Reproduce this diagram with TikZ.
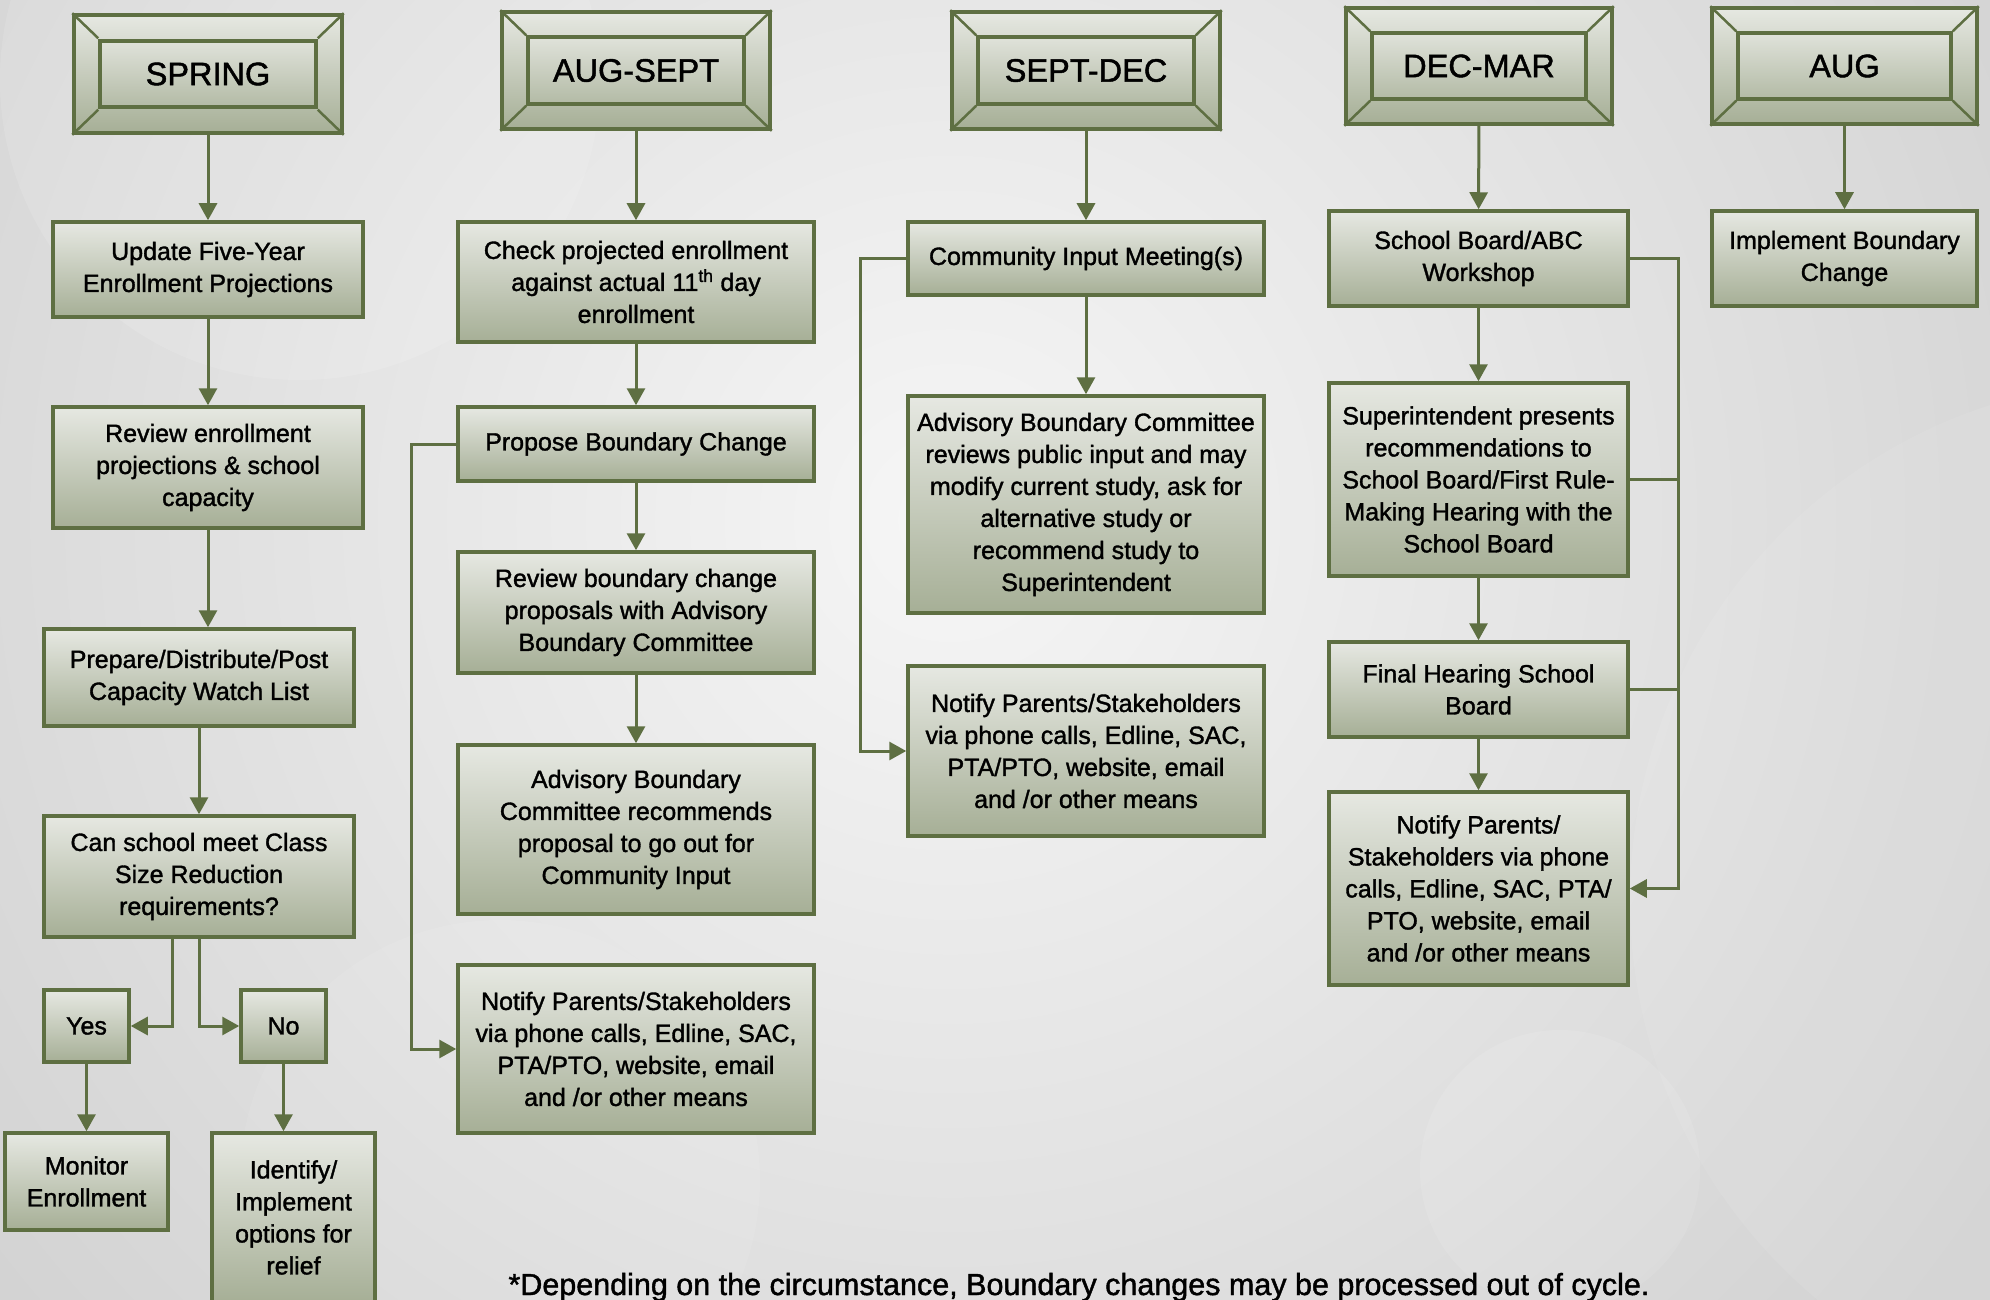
\documentclass[tikz,border=0pt]{standalone}
\usepackage{fontspec}
\setmainfont{Liberation Sans}[BoldFont=Liberation Sans, BoldFeatures={FakeBold=1.4}]
\usetikzlibrary{arrows.meta,calc}
\definecolor{bord}{HTML}{5E6F42}
\definecolor{ftop}{HTML}{E6E8E2}
\definecolor{fbot}{HTML}{A6AF96}
\definecolor{bgA}{HTML}{F6F6F6}
\definecolor{bgB}{HTML}{D2D2D2}
\begin{document}
\begin{tikzpicture}[x=1pt,y=-1pt,
  box/.style={draw=bord, line width=3.5pt, top color=ftop, bottom color=fbot,
    inner sep=0pt, align=center, text=black, font=\fontsize{25}{32}\selectfont\bfseries},
  hdr/.style={draw=bord, line width=3.5pt, top color=ftop, bottom color=fbot, inner sep=0pt},
  hdrin/.style={draw=bord, line width=3.5pt, top color=ftop!90!fbot, bottom color=fbot!80!ftop,
    inner sep=0pt, text=black, font=\fontsize{32.5}{36}\selectfont\bfseries},
  bevel/.style={draw=bord, line width=2.5pt},
  conn/.style={draw=bord, line width=3pt, -{Triangle[length=17pt,width=18pt]}},
  link/.style={draw=bord, line width=3pt},
]
\useasboundingbox (0,0) rectangle (1990,1300);
% background
\begin{scope}
  \clip (0,0) rectangle (1990,1300);
  \fill[bgB] (0,0) rectangle (1990,1300);
  \shade[inner color=bgA, outer color=bgB] (950,520) circle (1250);
  \fill[white, opacity=0.12] (300,80) circle (300);
  \fill[white, opacity=0.10] (1560,1170) circle (140);
  \fill[white, opacity=0.08] (2150,900) circle (520);
  \fill[white, opacity=0.08] (500,1180) circle (260);
\end{scope}

% ---------- SPRING ----------
\node[hdr, minimum width=268pt, minimum height=118pt] (h1) at (208,74) {};
\draw[bevel] (h1.north west) -- ++(26,25) (h1.north east) -- ++(-26,25)
  (h1.south west) -- ++(26,-25) (h1.south east) -- ++(-26,-25);
\node[hdrin, minimum width=216pt, minimum height=66pt] (h1i) at (h1) {SPRING};

\node[box, minimum width=310pt, minimum height=95pt] (upd) at (208,269.5) {Update Five-Year\\Enrollment Projections};
\node[box, minimum width=310pt, minimum height=121pt] (rev) at (208,467.5) {Review enrollment\\projections \& school\\capacity};
\node[box, minimum width=310pt, minimum height=97pt] (prep) at (199,677.5) {Prepare/Distribute/Post\\Capacity Watch List};
\node[box, minimum width=310pt, minimum height=121pt] (can) at (199,876.5) {Can school meet Class\\Size Reduction\\requirements?};
\node[box, minimum width=85pt, minimum height=72pt] (yes) at (86.5,1026) {Yes};
\node[box, minimum width=85pt, minimum height=72pt] (no) at (283.5,1026) {No};
\node[box, minimum width=163pt, minimum height=97pt] (mon) at (86.5,1181.5) {Monitor\\Enrollment};
\node[box, minimum width=163pt, minimum height=169pt] (ident) at (293.5,1217.5) {Identify/\\Implement\\options for\\relief};

\draw[conn] (h1) -- (upd);
\draw[conn] (upd) -- (rev);
\draw[conn] (rev.south) -- (rev.south |- prep.north);
\draw[conn] (prep) -- (can);
\draw[conn] ($(can.south)+(-27,0)$) |- (yes.east);
\draw[conn] (can.south) |- (no.west);
\draw[conn] (yes) -- (mon);
\draw[conn] (no.south) -- (no.south |- ident.north);

% ---------- AUG-SEPT ----------
\node[hdr, minimum width=268pt, minimum height=117pt] (h2) at (636,70.5) {};
\draw[bevel] (h2.north west) -- ++(26,25) (h2.north east) -- ++(-26,25)
  (h2.south west) -- ++(26,-25) (h2.south east) -- ++(-26,-25);
\node[hdrin, minimum width=216pt, minimum height=67pt] (h2i) at (h2) {AUG-SEPT};

\node[box, minimum width=356pt, minimum height=120pt] (chk) at (636,282) {Check projected enrollment\\against actual 11\textsuperscript{th} day\\enrollment};
\node[box, minimum width=356pt, minimum height=74pt] (prop) at (636,444) {Propose Boundary Change};
\node[box, minimum width=356pt, minimum height=121pt] (revb) at (636,612.5) {Review boundary change\\proposals with Advisory\\Boundary Committee};
\node[box, minimum width=356pt, minimum height=169pt] (adv) at (636,829.5) {Advisory Boundary\\Committee recommends\\proposal to go out for\\Community Input};
\node[box, minimum width=356pt, minimum height=168pt] (not1) at (636,1049) {Notify Parents/Stakeholders\\via phone calls, Edline, SAC,\\PTA/PTO, website, email\\and /or other means};

\draw[conn] (h2) -- (chk);
\draw[conn] (chk) -- (prop);
\draw[conn] (prop) -- (revb);
\draw[conn] (revb) -- (adv);
\draw[conn] (prop.west) -- ++(-45,0) |- (not1.west);

% ---------- SEPT-DEC ----------
\node[hdr, minimum width=268pt, minimum height=117pt] (h3) at (1086,70.5) {};
\draw[bevel] (h3.north west) -- ++(26,25) (h3.north east) -- ++(-26,25)
  (h3.south west) -- ++(26,-25) (h3.south east) -- ++(-26,-25);
\node[hdrin, minimum width=216pt, minimum height=67pt] (h3i) at (h3) {SEPT-DEC};

\node[box, minimum width=356pt, minimum height=73pt] (cim) at (1086,258.5) {Community Input Meeting(s)};
\node[box, minimum width=356pt, minimum height=217pt] (advr) at (1086,504.5) {Advisory Boundary Committee\\reviews public input and may\\modify current study, ask for\\alternative study or\\recommend study to\\Superintendent};
\node[box, minimum width=356pt, minimum height=170pt] (not2) at (1086,751) {Notify Parents/Stakeholders\\via phone calls, Edline, SAC,\\PTA/PTO, website, email\\and /or other means};

\draw[conn] (h3) -- (cim);
\draw[conn] (cim) -- (advr);
\draw[conn] (cim.west) -- ++(-46,0) |- (not2.west);

% ---------- DEC-MAR ----------
\node[hdr, minimum width=266pt, minimum height=116pt] (h4) at (1479,66) {};
\draw[bevel] (h4.north west) -- ++(26,25) (h4.north east) -- ++(-26,25)
  (h4.south west) -- ++(26,-25) (h4.south east) -- ++(-26,-25);
\node[hdrin, minimum width=214pt, minimum height=66pt] (h4i) at (h4) {DEC-MAR};

\node[box, minimum width=299pt, minimum height=95pt] (sba) at (1478.5,258.5) {School Board/ABC\\Workshop};
\node[box, minimum width=299pt, minimum height=193pt] (sup) at (1478.5,479.5) {Superintendent presents\\recommendations to\\School Board/First Rule-\\Making Hearing with the\\School Board};
\node[box, minimum width=299pt, minimum height=95pt] (fin) at (1478.5,689.5) {Final Hearing School\\Board};
\node[box, minimum width=299pt, minimum height=193pt] (not3) at (1478.5,888.5) {Notify Parents/\\Stakeholders via phone\\calls, Edline, SAC, PTA/\\PTO, website, email\\and /or other means};

\draw[conn] (h4) -- (sba);
\draw[conn] (sba) -- (sup);
\draw[conn] (sup) -- (fin);
\draw[conn] (fin) -- (not3);
\draw[conn] (sba.east) -- ++(49,0) coordinate (rj) |- (not3.east);
\draw[link] (sup.east) -- (sup.east -| rj);
\draw[link] (fin.east) -- (fin.east -| rj);

% ---------- AUG ----------
\node[hdr, minimum width=265pt, minimum height=116pt] (h5) at (1844.5,66) {};
\draw[bevel] (h5.north west) -- ++(26,25) (h5.north east) -- ++(-26,25)
  (h5.south west) -- ++(26,-25) (h5.south east) -- ++(-26,-25);
\node[hdrin, minimum width=213pt, minimum height=66pt] (h5i) at (h5) {AUG};

\node[box, minimum width=265pt, minimum height=95pt] (imp) at (1844.5,258.5) {Implement Boundary\\Change};
\draw[conn] (h5) -- (imp);

% footnote
\node[anchor=base, inner sep=0pt, text=black, font=\fontsize{30.5}{34}\selectfont\bfseries] (foot) at (1079,1295)
  {*Depending on the circumstance, Boundary changes may be processed out of cycle.};
\end{tikzpicture}
\end{document}
